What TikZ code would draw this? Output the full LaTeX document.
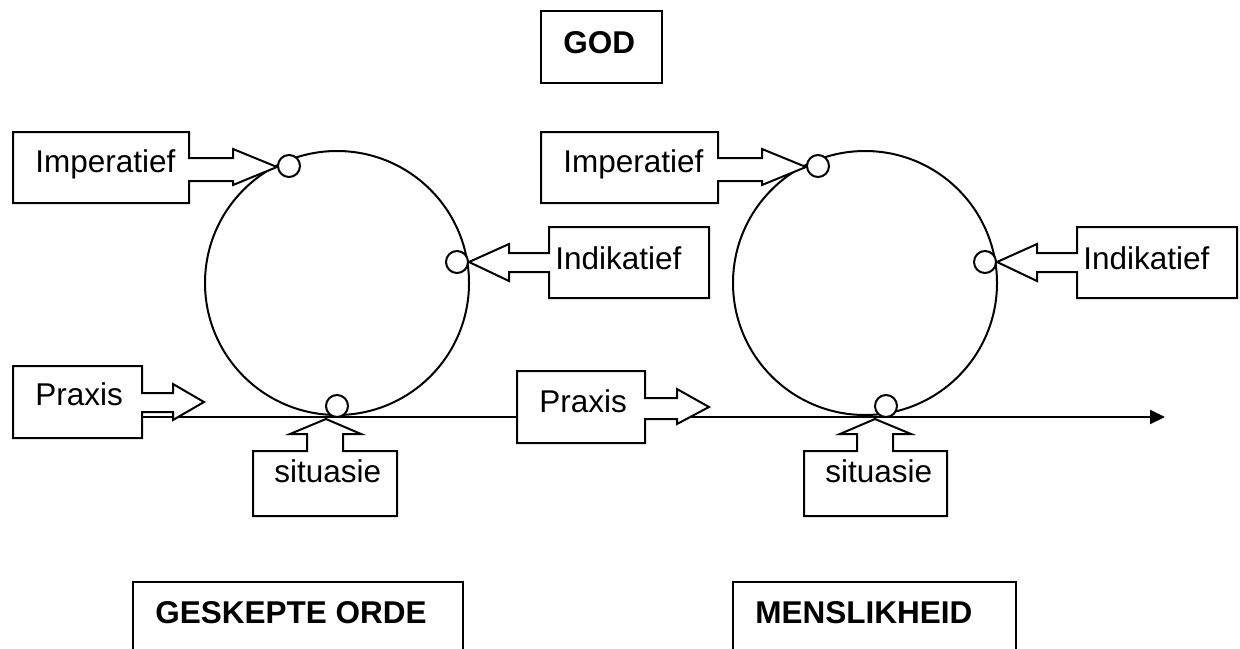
\documentclass[tikz,border=0pt]{standalone}
\usepackage{fontspec}
\setmainfont{Liberation Sans}
\usetikzlibrary{arrows.meta}
\begin{document}
\begin{tikzpicture}[x=0.5pt,y=-0.5pt,
  outline/.style={draw=black, line width=1pt, fill=white, line join=miter},
  lbl/.style={anchor=base west, inner sep=0pt, font=\fontsize{15.75}{18}\selectfont},
  title/.style={anchor=base west, inner sep=0pt, font=\fontsize{15.75}{18}\selectfont\bfseries},
  ring/.style={draw=black, line width=1pt},
  dot/.style={draw=black, line width=1pt, fill=white},
  axis/.style={draw=black, line width=1pt, -{Triangle[length=7.5pt,width=7pt]}}]
\useasboundingbox (0,0) rectangle (1240,648);
\clip (0,0) rectangle (1240,648);

% the two cycles
\draw[ring] (337,283) circle[radius=132];
\draw[ring] (865,283) circle[radius=132];

% time line
\coordinate (start) at (142,417);
\coordinate (end) at (1165,417);
\draw[axis] (start) -- (end);

% top box and the two bottom boxes
\draw[outline] (541,11) rectangle (662,83);
\draw[outline] (133,582) rectangle (463,690);
\draw[outline] (733,582) rectangle (1016,690);

% Imperatief callouts (pointing right)
\draw[outline] (13,132) -- (189,132) -- (189,158) -- (233,158) -- (233,149) -- (277,167)
  -- (233,185) -- (233,181) -- (189,181) -- (189,203) -- (13,203) -- cycle;
\draw[outline] (541,132) -- (718,132) -- (718,158) -- (762,158) -- (762,149) -- (806,167)
  -- (762,185) -- (762,181) -- (718,181) -- (718,203) -- (541,203) -- cycle;

% Indikatief callouts (pointing left)
\draw[outline] (709,227) -- (549,227) -- (549,253) -- (509,253) -- (509,244) -- (469,262)
  -- (509,281) -- (509,272) -- (549,272) -- (549,298) -- (709,298) -- cycle;
\draw[outline] (1237,227) -- (1077,227) -- (1077,253) -- (1037,253) -- (1037,244) -- (997,262)
  -- (1037,281) -- (1037,272) -- (1077,272) -- (1077,298) -- (1237,298) -- cycle;

% Praxis callouts (pointing right)
\draw[outline] (13,366) -- (142,366) -- (142,393) -- (173,393) -- (173,384) -- (204,402)
  -- (173,420) -- (173,412) -- (142,412) -- (142,438) -- (13,438) -- cycle;
\draw[outline] (517,371) -- (645,371) -- (645,398) -- (677,398) -- (677,389) -- (709,407)
  -- (677,424) -- (677,419) -- (645,419) -- (645,443) -- (517,443) -- cycle;

% situasie callouts (pointing up)
\draw[outline] (253,451) -- (307,451) -- (307,434) -- (290,434) -- (326,419) -- (361,434)
  -- (343,434) -- (343,451) -- (397,451) -- (397,516) -- (253,516) -- cycle;
\draw[outline] (804,451) -- (857,451) -- (857,434) -- (840,434) -- (875,419) -- (911,434)
  -- (893,434) -- (893,451) -- (947,451) -- (947,516) -- (804,516) -- cycle;

% contact points on the cycles
\draw[dot] (289,166) circle[radius=11];
\draw[dot] (457,262) circle[radius=11];
\draw[dot] (337,406) circle[radius=11];
\draw[dot] (818,166) circle[radius=11];
\draw[dot] (985,262) circle[radius=11];
\draw[dot] (886,406) circle[radius=11];

% labels
\node[title] (god) at (563,53) {GOD};
\node[title] (orde) at (155,623) {GESKEPTE ORDE};
\node[title] (mens) at (755,623) {MENSLIKHEID};
\node[lbl] (imp1) at (35,172) {Imperatief};
\node[lbl] (imp2) at (563,172) {Imperatief};
\node[lbl] (ind1) at (555,269) {Indikatief};
\node[lbl] (ind2) at (1083,269) {Indikatief};
\node[lbl] (prx1) at (35,405) {Praxis};
\node[lbl] (prx2) at (539,412) {Praxis};
\node[lbl] (sit1) at (274,482) {situasie};
\node[lbl] (sit2) at (825,482) {situasie};
\end{tikzpicture}
\end{document}
